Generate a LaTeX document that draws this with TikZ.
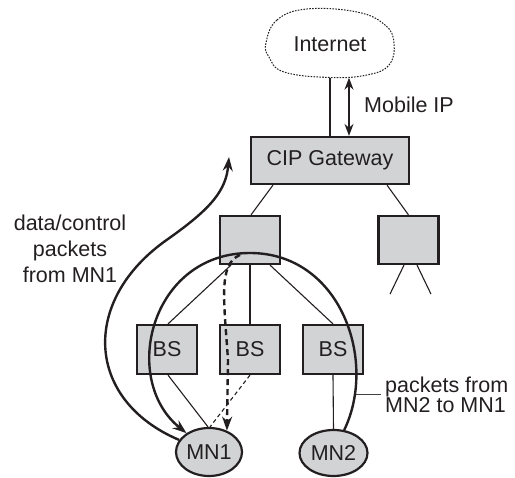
\documentclass[tikz,border=0pt]{standalone}
\usepackage{fontspec}
\setmainfont{Liberation Sans}
\usetikzlibrary{arrows.meta,calc,shapes.geometric}
\definecolor{boxgray}{HTML}{D1D3D4}
\definecolor{ink}{HTML}{231F20}
\begin{document}
\begin{tikzpicture}[x=1pt,y=-1pt,
  every node/.style={font=\fontsize{21.5}{26}\selectfont, text=ink},
  box/.style={draw=ink, fill=boxgray, line width=2.2pt, rectangle, inner sep=0pt},
  mn/.style={draw=ink, fill=boxgray, line width=2.2pt, ellipse, inner sep=0pt},
  thinline/.style={draw=ink, line width=1.1pt},
  flow/.style={draw=ink, line width=2.4pt, -{Stealth[length=14pt,width=10pt]}},
  label/.style={inner sep=0pt},
]
\useasboundingbox (0,0) rectangle (515,478);

% Internet cloud
\node[minimum width=128pt, minimum height=67pt, inner sep=0pt] (inet) at (330,44) {Internet};
\draw[ink, line width=1pt, dash pattern=on 1.6pt off 1.3pt]
  plot[smooth cycle, tension=0.7] coordinates {(266,43) (277,20) (307,9) (357,12) (385,25) (394,43) (389,65) (367,75) (330,77.5) (284,72) (269,57)};

% boxes
\node[box, minimum width=158pt, minimum height=47pt] (gw) at (330,160.5) {CIP Gateway};
\node[box, minimum width=60pt, minimum height=48pt] (mid) at (250,240) {};
\node[box, minimum width=60pt, minimum height=48pt] (rt) at (408.5,240) {};
\node[box, minimum width=60pt, minimum height=49pt] (bs1) at (167,349.5) {\raisebox{2pt}{BS}};
\node[box, minimum width=60pt, minimum height=49pt] (bs2) at (250,349.5) {\raisebox{2pt}{BS}};
\node[box, minimum width=60pt, minimum height=49pt] (bs3) at (333,349.5) {\raisebox{2pt}{BS}};
\node[mn, minimum width=66pt, minimum height=48pt] (mn1) at (209,452) {MN1};
\node[mn, minimum width=68pt, minimum height=46pt] (mn2) at (333.5,453) {MN2};

% labels
\node[label, anchor=west] (mip) at (364,105) {Mobile IP};
\node[label, align=center] (dclbl) at (70,248.5) {data/control\\packets\\from MN1};
\node[label, inner xsep=4pt, anchor=west, align=left, font=\fontsize{21.5}{20.5}\selectfont] (pklbl) at (381,395) {packets from\\MN2 to MN1};

% tree connectors
\draw[thinline] (inet.south) -- (gw.north);
\draw[draw=ink, line width=1.4pt, {Stealth[length=12pt,width=9pt]}-{Stealth[length=12pt,width=9pt]}]
  ($(inet.south)+(19,0)$) -- ($(gw.north)+(19,0)$);
\draw[thinline] ($(gw.south)+(-57,0)$) -- ($(mid.north)+(1,0)$);
\draw[thinline] ($(gw.south)+(57,0)$) -- (rt.north);
\draw[thinline] ($(rt.south)+(-4.5,0)$) -- ++(-14,29);
\draw[thinline] ($(rt.south)+(8.5,0)$) -- ++(14,29);
\draw[thinline] ($(mid.south)+(-19,0)$) -- ($(bs1.north)+(1,0)$);
\draw[thinline] (mid.south) -- (bs2.north);
\draw[thinline] ($(mid.south)+(20,0)$) -- (bs3.north);
\draw[thinline] ($(bs1.south)+(1,0)$) -- ($(mn1.north)+(-1,0)$);
\draw[thinline, dash pattern=on 4pt off 3pt] (bs2.south) -- ($(mn1.north)+(1,0)$);
\draw[thinline] (bs3.south) -- (mn2.north);

% flows
\draw[flow] (mn2.65) .. controls (378,360) and (340,253) .. (250,253)
  .. controls (150,253) and (120,380) .. (mn1.140);
\coordinate (dctip) at (229,157);
\draw[flow] (mn1.158) .. controls (85,400) and (80,300) .. (168,239)
  .. controls (212,208) and (226,190) .. (dctip);
\coordinate (dstart) at (240,255);
\draw[flow, dash pattern=on 6pt off 4pt] (dstart) .. controls (218,264) and (224,300) .. (228,360) -- (mn1.50);

% leader
\coordinate (lead) at (356,395);
\draw[draw=ink!85, line width=1pt] (lead) -- (pklbl.west);
\end{tikzpicture}
\end{document}
